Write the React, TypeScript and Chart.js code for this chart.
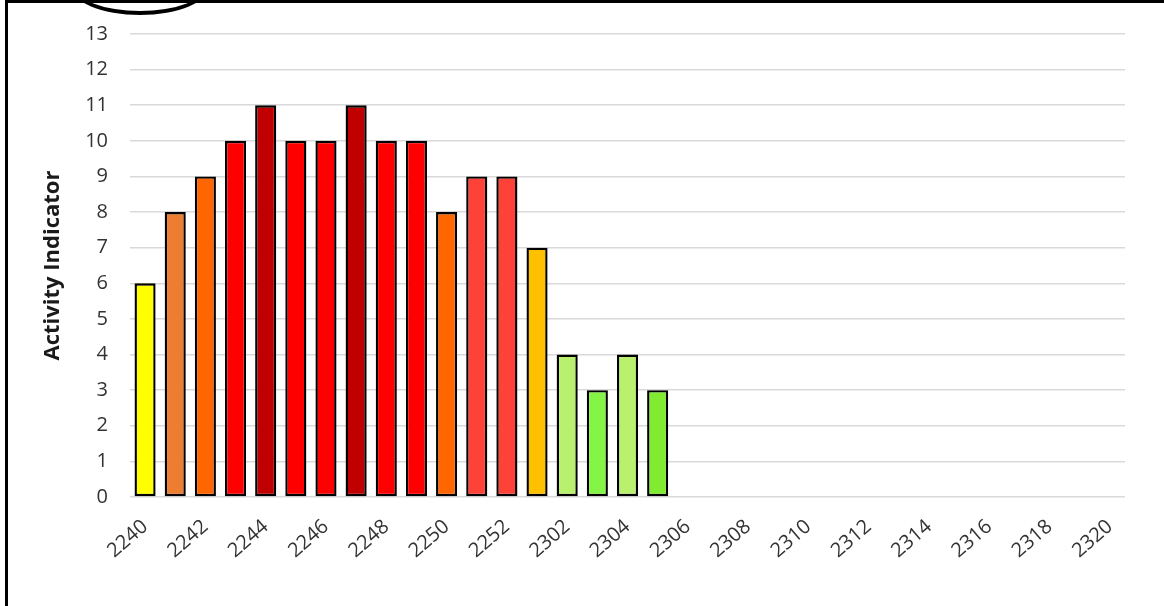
import React, { useEffect, useRef } from "react";
import { Chart, registerables } from "chart.js";

Chart.register(...registerables);

const categories = [
  "2240", "2241", "2242", "2243", "2244", "2245", "2246", "2247", "2248", "2249",
  "2250", "2251", "2252", "2301", "2302", "2303", "2304", "2305", "2306", "2307",
  "2308", "2309", "2310", "2311", "2312", "2313", "2314", "2315", "2316", "2317",
  "2318", "2319", "2320",
];

const activityValues = [6, 8, 9, 10, 11, 10, 10, 11, 10, 10, 8, 9, 9, 7, 4, 3, 4, 3];

const barColors = [
  "#FFFF00", "#ED7D31", "#FF6600", "#FF0000", "#C00000", "#FF0000", "#FF0000",
  "#C00000", "#FF0000", "#FF0000", "#FF6600", "#FF4238", "#FF4238", "#FFC000",
  "#B9F06E", "#85F545", "#B9F06E", "#80EB30",
];

const yTicks = [0, 1, 2, 3, 4, 5, 6, 7, 8, 9, 10, 11, 12, 13];

const yTitle = "Activity Indicator";

export default function App() {
  const canvasRef = useRef<HTMLCanvasElement | null>(null);

  useEffect(() => {
    if (!canvasRef.current) return;
    const fontFamily = "'Open Sans', 'Liberation Sans', sans-serif";
    const chart = new Chart(canvasRef.current, {
      type: "bar",
      data: {
        labels: categories,
        datasets: [
          {
            label: yTitle,
            data: activityValues,
            backgroundColor: barColors,
            borderColor: "#000000",
            borderWidth: 2.4,
            borderSkipped: false,
            barPercentage: 0.7,
            categoryPercentage: 1,
          },
        ],
      },
      options: {
        animation: false,
        responsive: false,
        maintainAspectRatio: false,
        layout: { padding: { left: 40, right: 39, top: 15, bottom: 0 } },
        plugins: { legend: { display: false }, tooltip: { enabled: false } },
        scales: {
          x: {
            grid: { display: false, drawTicks: false },
            border: { display: false },
            ticks: {
              autoSkip: false,
              minRotation: 41,
              maxRotation: 41,
              padding: 18,
              color: "#333333",
              font: { family: fontFamily, size: 20 },
              callback: (_v: any, i: number) => (i % 2 === 0 ? categories[i] : ""),
            },
            afterFit: (scale: any) => {
              scale.height = 109;
            },
          },
          y: {
            min: 0,
            max: 13,
            afterBuildTicks: (scale: any) => {
              scale.ticks = yTicks.map((v) => ({ value: v }));
            },
            grid: { color: "#D9D9D9", lineWidth: 1.6, drawTicks: false },
            border: { display: false },
            ticks: {
              padding: 22,
              color: "#333333",
              font: { family: fontFamily, size: 20 },
            },
            title: {
              display: true,
              text: yTitle,
              color: "#1a1a1a",
              font: { family: fontFamily, size: 22, weight: "bold" },
              padding: { top: 0, bottom: 0 },
            },
            afterFit: (scale: any) => {
              scale.width = 90;
            },
          },
        },
      },
    });
    return () => chart.destroy();
  }, []);

  return (
    <div
      style={{
        position: "fixed",
        left: 0,
        top: 0,
        width: 1164,
        height: 606,
        overflow: "hidden",
        background: "#ffffff",
      }}
    >
      <canvas
        ref={canvasRef}
        width={1164}
        height={606}
        style={{ position: "absolute", left: 0, top: 0, width: 1164, height: 606 }}
      />
      <div
        style={{
          position: "absolute",
          left: 5,
          top: 0,
          width: 1200,
          height: 700,
          borderLeft: "3px solid #000",
          borderTop: "3px solid #000",
          boxSizing: "border-box",
          pointerEvents: "none",
        }}
      />
      <div
        style={{
          position: "absolute",
          left: 70,
          top: -45,
          width: 140,
          height: 60,
          border: "4px solid #000",
          borderRadius: "50%",
          boxSizing: "border-box",
          pointerEvents: "none",
        }}
      />
    </div>
  );
}
